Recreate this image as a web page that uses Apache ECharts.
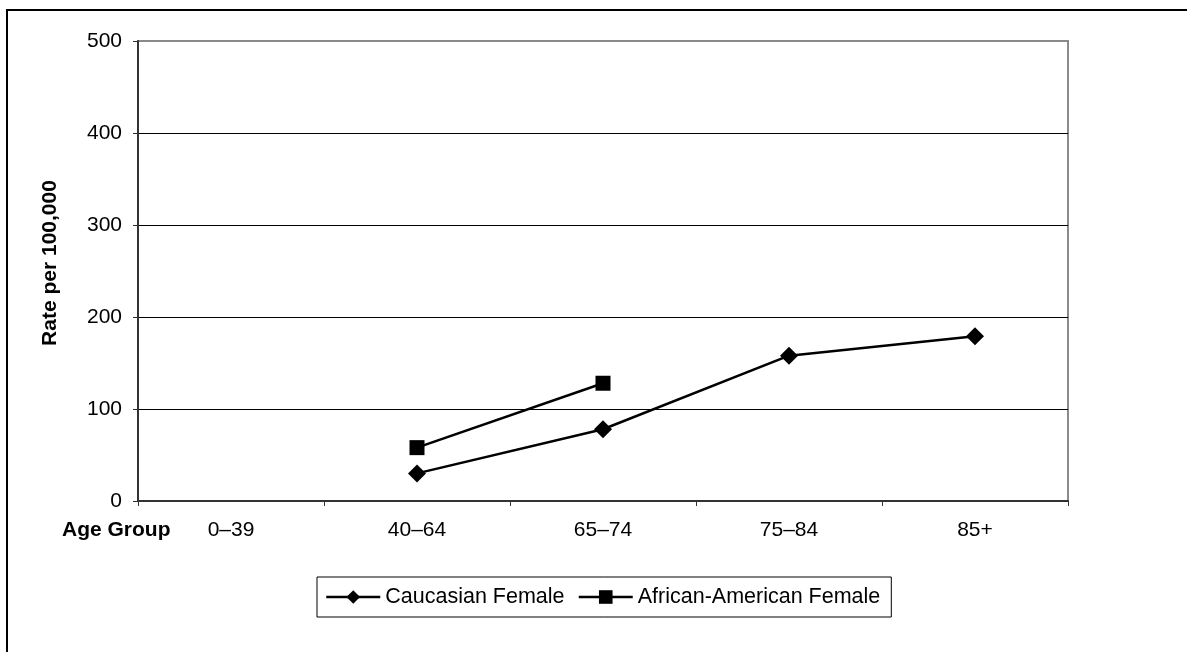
<!DOCTYPE html>
<html>
<head>
<meta charset="utf-8">
<script src="https://cdn.jsdelivr.net/npm/echarts@6/dist/echarts.min.js"></script>
<style>
html,body{margin:0;padding:0;background:#fff;}
#chart{width:1187px;height:652px;}
</style>
</head>
<body>
<div id="chart"></div>
<script>
const categories = ['0\u201339', '40\u201364', '65\u201374', '75\u201384', '85+'];
const caucasianFemale = [null, 30, 78, 158, 179];
const africanAmericanFemale = [null, 58, 128, null, null];
const yTicks = { min: 0, max: 500, interval: 100 };
const seriesNames = ['Caucasian Female', 'African-American Female'];
const xAxisTitle = 'Age Group';
const yAxisTitle = 'Rate per 100,000';

const FONT = '"Liberation Sans", Arial, sans-serif';
const chart = echarts.init(document.getElementById('chart'), null, { renderer: 'canvas' });

chart.setOption({
  animation: false,
  backgroundColor: '#fff',
  textStyle: { fontFamily: FONT, color: '#000' },
  grid: {
    left: 138, right: 119, top: 41, bottom: 151,
    show: true, borderColor: '#8a8a8a', borderWidth: 2, backgroundColor: 'transparent'
  },
  legend: {
    left: 317, top: 577,
    data: seriesNames,
    borderColor: '#000', borderWidth: 1,
    padding: [9, 11, 9, 8],
    itemWidth: 54, itemHeight: 17, itemGap: 13,
    lineStyle: { width: 2.5 },
    textStyle: { fontFamily: FONT, fontSize: 21.5, color: '#000' }
  },
  xAxis: {
    type: 'category',
    data: categories,
    boundaryGap: true,
    axisLine: { lineStyle: { color: '#333', width: 2 } },
    axisTick: { show: true, length: 5, alignWithLabel: false, lineStyle: { color: '#333', width: 1 } },
    axisLabel: { fontSize: 21, color: '#000', margin: 19, fontFamily: FONT },
    splitLine: { show: false }
  },
  yAxis: {
    type: 'value',
    min: yTicks.min, max: yTicks.max, interval: yTicks.interval,
    name: yAxisTitle,
    nameLocation: 'middle',
    nameGap: 77,
    nameTextStyle: { fontSize: 21, fontWeight: 'bold', color: '#000', fontFamily: FONT, padding: [0, 0, 0, 16] },
    axisLine: { show: true, lineStyle: { color: '#333', width: 2 } },
    axisTick: { show: true, length: 5, lineStyle: { color: '#333', width: 1 } },
    axisLabel: { fontSize: 21, color: '#000', margin: 16, fontFamily: FONT },
    splitLine: { show: true, lineStyle: { color: ['#000', '#000', '#000', '#000', '#000', '#8a8a8a'], width: 1 } }
  },
  series: [
    {
      name: seriesNames[0],
      type: 'line',
      data: caucasianFemale,
      symbol: 'diamond',
      symbolSize: 18,
      connectNulls: false,
      itemStyle: { color: '#000' },
      lineStyle: { color: '#000', width: 2.5 }
    },
    {
      name: seriesNames[1],
      type: 'line',
      data: africanAmericanFemale,
      symbol: 'rect',
      symbolSize: 15,
      connectNulls: false,
      itemStyle: { color: '#000' },
      lineStyle: { color: '#000', width: 2.5 }
    }
  ],
  graphic: [
    { type: 'line', shape: { x1: 6, y1: 10, x2: 1187, y2: 10 }, style: { stroke: '#000', lineWidth: 2 } },
    { type: 'line', shape: { x1: 7, y1: 9, x2: 7, y2: 652 }, style: { stroke: '#000', lineWidth: 2 } },
    { type: 'text', left: 62, top: 520, style: { text: xAxisTitle, font: 'bold 21px ' + FONT, fill: '#000' } }
  ]
});
</script>
</body>
</html>
